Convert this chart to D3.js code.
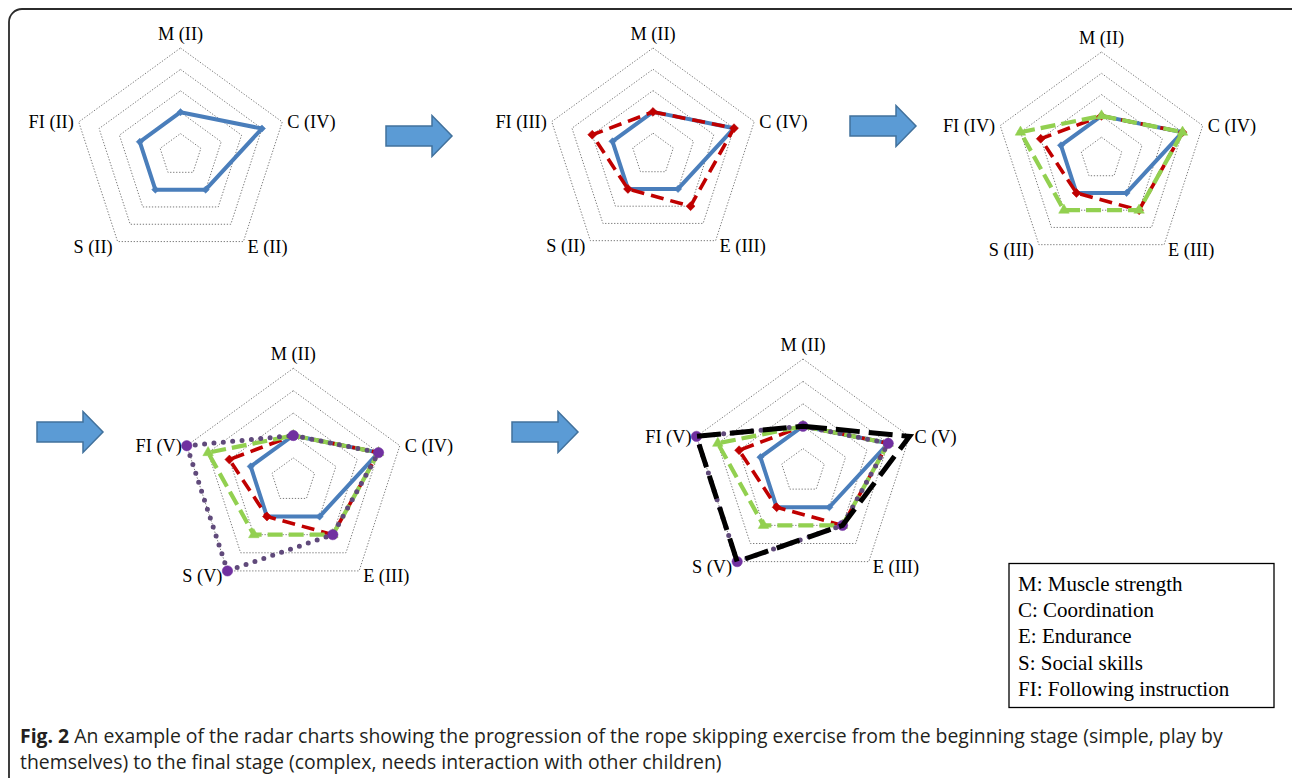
<!DOCTYPE html>
<html><head><meta charset="utf-8">
<script src="https://cdn.jsdelivr.net/npm/d3@7"></script>
<style>body{margin:0;background:#fff} svg{display:block}</style>
</head><body>
<svg id="fig" width="1292" height="778"></svg>
<script>
// ---------- data ----------
const axes = ["M", "C", "E", "S", "FI"];
const romans = ["0", "I", "II", "III", "IV", "V"];
const levels = [1, 2, 3, 4, 5];
const stage1 = [2, 4, 2, 2, 2];
const stage2 = [2, 4, 3, 2, 3];
const stage3 = [2, 4, 3, 3, 4];
const stage4 = [2, 4, 3, 5, 5];
const stage5 = [2, 5, 3, 5, 5];
const stages = [stage1, stage2, stage3, stage4, stage5];
const legendLines = ["M: Muscle strength", "C: Coordination", "E: Endurance", "S: Social skills", "FI: Following instruction"];
const captionBold = "Fig. 2";
const captionLine1 = " An example of the radar charts showing the progression of the rope skipping exercise from the beginning stage (simple, play by";
const captionLine2 = "themselves) to the final stage (complex, needs interaction with other children)";

// ---------- layout & styles ----------
const panels = [
  {cx: 180.5, cy: 155, r: 107, n: 1},
  {cx: 653, cy: 154.5, r: 106.5, n: 2},
  {cx: 1101.5, cy: 158.5, r: 106.5, n: 3},
  {cx: 293.3, cy: 480.3, r: 112, n: 4},
  {cx: 803, cy: 471, r: 112, n: 5}
];
const arrows = [
  {x: 386, y: 136}, {x: 850, y: 126}, {x: 37, y: 432}, {x: 512, y: 432}
];
const seriesStyle = [
  {stroke: "#4A7EBB", width: 4, dash: null, cap: "round", marker: "diamond", msize: 26, fill: "#4A7EBB"},
  {stroke: "#C00000", width: 3.6, dash: "13,7", cap: "butt", marker: "diamond", msize: 40, fill: "#C00000"},
  {stroke: "#92D050", width: 4.2, dash: "15,6", cap: "butt", marker: "triangle", msize: 48, fill: "#92D050"},
  {stroke: "#604A7B", width: 5, dash: "0,9.4", cap: "round", marker: "circle", msize: 85, fill: "#7030A0"},
  {stroke: "#000000", width: 5, dash: "24,9", cap: "butt", marker: null}
];

const svg = d3.select("#fig");
const serif = "'Liberation Serif', 'Times New Roman', serif";

// border frame
svg.append("rect").attr("x", 9).attr("y", 9).attr("width", 1300).attr("height", 820)
  .attr("rx", 13).attr("fill", "none").attr("stroke", "#2b2b2b").attr("stroke-width", 1.8);

const angle = i => i * 2 * Math.PI / axes.length;

panels.forEach(p => {
  const g = svg.append("g").attr("transform", `translate(${p.cx},${p.cy})`);
  const rScale = d3.scaleLinear().domain([0, 5]).range([0, p.r]);
  const radial = d3.lineRadial()
    .angle((d, i) => angle(i))
    .radius(d => rScale(d))
    .curve(d3.curveLinearClosed);

  // rings
  g.selectAll("path.ring").data(levels).enter().append("path")
    .attr("class", "ring")
    .attr("d", l => radial(axes.map(() => l)))
    .attr("fill", "none").attr("stroke", "#7a7a7a")
    .attr("stroke-width", 1).attr("stroke-dasharray", "1.3,1.7");

  // series
  for (let s = 0; s < p.n; s++) {
    const vals = stages[s];
    const st = seriesStyle[s];
    g.append("path").attr("d", radial(vals))
      .attr("fill", "none").attr("stroke", st.stroke)
      .attr("stroke-width", st.width)
      .attr("stroke-linejoin", s === 0 ? "round" : "miter")
      .attr("stroke-linecap", st.cap)
      .attr("stroke-dasharray", st.dash);
    if (st.marker) {
      const type = st.marker === "circle" ? d3.symbolCircle : st.marker === "triangle" ? d3.symbolTriangle : d3.symbolSquare;
      const sym = d3.symbol().type(type).size(st.msize);
      g.selectAll(null).data(vals).enter().append("path")
        .attr("d", sym)
        .attr("transform", (d, i) => {
          const a = angle(i) - Math.PI / 2;
          const x = rScale(d) * Math.cos(a), y = rScale(d) * Math.sin(a);
          return `translate(${x},${y})` + (st.marker === "diamond" ? " rotate(45)" : "");
        })
        .attr("fill", st.fill).attr("stroke", st.fill).attr("stroke-width", 0.5);
    }
  }

  // axis labels (level of the final stage shown in this panel)
  const last = stages[p.n - 1];
  axes.forEach((ax, i) => {
    const a = angle(i) - Math.PI / 2;
    const vx = p.r * Math.cos(a), vy = p.r * Math.sin(a);
    const t = g.append("text").text(`${ax} (${romans[last[i]]})`)
      .attr("font-family", serif).attr("font-size", 18.3).attr("fill", "#000");
    if (i === 0) t.attr("x", 0).attr("y", vy - 8).attr("text-anchor", "middle");
    else if (i === 1) t.attr("x", vx + 5).attr("y", vy).attr("dy", "0.35em").attr("text-anchor", "start");
    else if (i === 2) t.attr("x", vx + 4).attr("y", vy + 5).attr("dy", "0.35em").attr("text-anchor", "start");
    else if (i === 3) t.attr("x", vx - 5).attr("y", vy + 5).attr("dy", "0.35em").attr("text-anchor", "end");
    else t.attr("x", vx - 5).attr("y", vy).attr("dy", "0.35em").attr("text-anchor", "end");
  });
});

// arrows
const aw = 66, ah = 41, sh = 20, hl = 20;
arrows.forEach(a => {
  const pts = [
    [a.x, a.y - sh / 2], [a.x + aw - hl, a.y - sh / 2], [a.x + aw - hl, a.y - ah / 2],
    [a.x + aw, a.y], [a.x + aw - hl, a.y + ah / 2], [a.x + aw - hl, a.y + sh / 2], [a.x, a.y + sh / 2]
  ];
  svg.append("path").attr("d", d3.line()(pts) + "Z")
    .attr("fill", "#5B9BD5").attr("stroke", "#41719C").attr("stroke-width", 1.5);
});

// legend box
const lg = svg.append("g");
lg.append("rect").attr("x", 1009).attr("y", 563.5).attr("width", 265).attr("height", 144)
  .attr("fill", "#fff").attr("stroke", "#000").attr("stroke-width", 1.3);
lg.selectAll("text").data(legendLines).enter().append("text")
  .attr("x", 1018).attr("y", (d, i) => 591 + i * 26.2)
  .attr("font-family", serif).attr("font-size", 21).attr("fill", "#000")
  .text(d => d);

// caption
const cap = svg.append("g").attr("font-family", "'Open Sans', 'Noto Sans', sans-serif").attr("font-size", 19.4).attr("fill", "#231F20");
const t1 = cap.append("text").attr("x", 20).attr("y", 743);
t1.append("tspan").attr("font-weight", "bold").text(captionBold);
t1.append("tspan").text(captionLine1);
cap.append("text").attr("x", 20).attr("y", 769).text(captionLine2);
</script>
</body></html>
